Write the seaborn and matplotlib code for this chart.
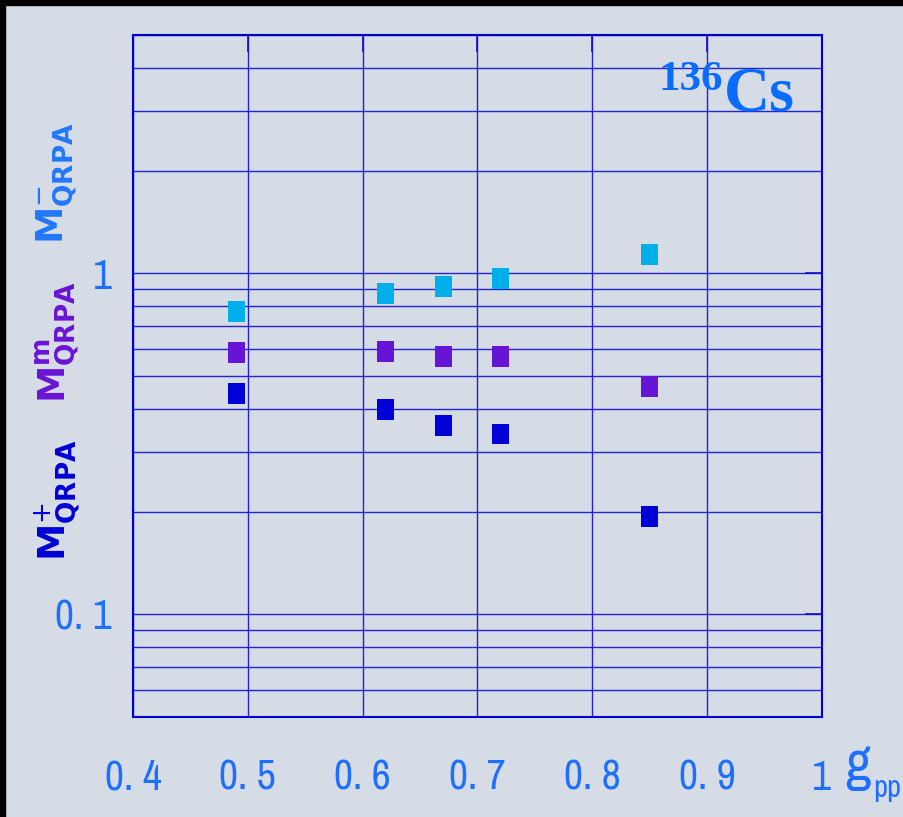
import numpy as np
import pandas as pd
import matplotlib
matplotlib.use("Agg")
import matplotlib.pyplot as plt
import seaborn as sns
from matplotlib import font_manager as fm
from matplotlib.ticker import FixedLocator, FixedFormatter, LogLocator, NullFormatter

# ---------------- data ----------------
g_pp = [0.49, 0.62, 0.67, 0.72, 0.85]
m_minus = [0.774, 0.874, 0.916, 0.967, 1.137]
m_m = [0.587, 0.591, 0.572, 0.572, 0.467]
m_plus = [0.443, 0.400, 0.357, 0.338, 0.194]
series_names = ["M-", "Mm", "M+"]
series_colors = ["#00aeea", "#6614d6", "#0000d6"]
xtick_vals = [0.4, 0.5, 0.6, 0.7, 0.8, 0.9, 1.0]
xtick_labels = ["0. 4", "0. 5", "0. 6", "0. 7", "0. 8", "0. 9", "1"]
ytick_vals = [0.1, 1.0]
ytick_labels = ["0. 1", "1"]

df = pd.DataFrame({
    "g": g_pp * 3,
    "M": m_minus + m_m + m_plus,
    "series": [series_names[0]] * 5 + [series_names[1]] * 5 + [series_names[2]] * 5,
})

# ---------------- fonts ----------------
narrow = None
for f in fm.fontManager.ttflist:
    if "Narrow" in f.name or "Condensed" in f.name:
        if f.style == "normal" and f.weight in (400, "normal", "regular"):
            narrow = f.fname
            break

def fp(size):
    if narrow:
        return fm.FontProperties(fname=narrow, size=size)
    return fm.FontProperties(family="Liberation Sans", size=size * 0.87)

BG = "#d5dce6"
GRID = "#2424d2"
TXT = "#1f6fff"

sns.set_style("white")
fig = plt.figure(figsize=(9.04, 8.17), dpi=100, facecolor=BG)
ax = fig.add_axes([133 / 904, 1 - 717 / 817, 689 / 904, 682 / 817])
ax.set_facecolor(BG)

marker = [(-0.81, -1), (0.81, -1), (0.81, 1), (-0.81, 1)]
sns.scatterplot(data=df, x="g", y="M", hue="series", palette=series_colors,
                hue_order=series_names, marker=marker, s=228, linewidth=0,
                legend=False, ax=ax, zorder=5)

ax.set_yscale("log")
ax.set_xlim(0.4, 1.0)
ax.set_ylim(0.05, 5)

ax.xaxis.set_major_locator(FixedLocator(xtick_vals))
ax.xaxis.set_major_formatter(FixedFormatter(xtick_labels))
ax.yaxis.set_major_locator(FixedLocator(ytick_vals))
ax.yaxis.set_major_formatter(FixedFormatter(ytick_labels))
ax.yaxis.set_minor_locator(LogLocator(base=10, subs=np.arange(2, 10)))
ax.yaxis.set_minor_formatter(NullFormatter())

ax.grid(True, which="both", axis="both", color=GRID, linewidth=1.0)
ax.set_axisbelow(True)
ax.tick_params(which="major", direction="in", length=12, width=1.2, color="#1010c8",
               top=True, right=True)
ax.tick_params(which="minor", direction="in", length=0)
ax.tick_params(axis="x", which="major", pad=30)
ax.tick_params(axis="y", which="major", pad=15)
for s in ax.spines.values():
    s.set_color("#0000cc")
    s.set_linewidth(1.5)

for lbl in ax.get_xticklabels() + ax.get_yticklabels():
    lbl.set_fontproperties(fp(30))
    lbl.set_color(TXT)

ax.set_xlabel("")
ax.set_ylabel("")

# nucleus label
ax.text(0.856, 0.92, "136", transform=ax.transAxes, ha="right", va="baseline",
        family="Liberation Serif", weight="bold", fontsize=31, color="#0a6cff")
ax.text(0.858, 0.89, "Cs", transform=ax.transAxes, ha="left", va="baseline",
        family="Liberation Serif", weight="bold", fontsize=46, color="#0a6cff")

# x axis label g_pp
fig.text(845 / 904, 1 - 780 / 817, "g", ha="left", va="baseline",
         fontproperties=fp(40), color=TXT)
fig.text(873 / 904, 1 - 797 / 817, "pp", ha="left", va="baseline",
         fontproperties=fp(22), color=TXT)

# y axis labels
ylabs = [(r"$\mathbf{M}^{-}_{\mathbf{QRPA}}$", "#2277ff", 183),
         (r"$\mathbf{M}^{\mathbf{m}}_{\mathbf{QRPA}}$", "#6a14d6", 342),
         (r"$\mathbf{M}^{+}_{\mathbf{QRPA}}$", "#0000d6", 500)]
for txt, col, yc in ylabs:
    fig.text(57 / 904, 1 - yc / 817, txt, rotation=90, ha="center", va="center",
             fontsize=27, color=col)

# black border top / left
fig.patches.append(plt.Rectangle((0, 0), 5 / 904, 1, transform=fig.transFigure,
                                 color="black", zorder=10))
fig.patches.append(plt.Rectangle((0, 1 - 5 / 817), 1, 5 / 817, transform=fig.transFigure,
                                 color="black", zorder=10))

fig.savefig("out.png", dpi=100, facecolor=BG)
